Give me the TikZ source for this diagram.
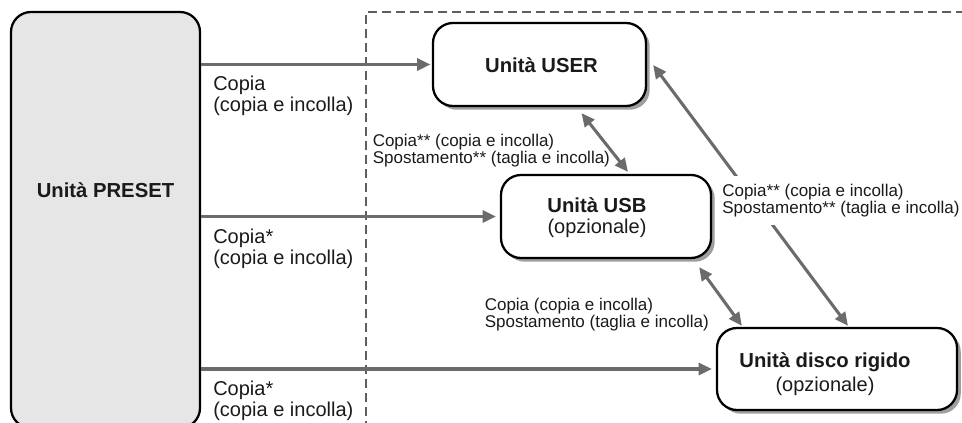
\documentclass[tikz,border=0pt]{standalone}
\usepackage{fontspec}
\setmainfont{Liberation Sans}
\usetikzlibrary{arrows.meta,calc,shadows}
\definecolor{arrgray}{HTML}{6B6B6B}
\definecolor{dashgray}{HTML}{5E5E5E}
\definecolor{presetfill}{HTML}{E6E6E6}
\definecolor{shadowgray}{HTML}{9E9E9E}
\definecolor{txt}{HTML}{1A1A1A}
\begin{document}
\begin{tikzpicture}[x=0.75pt,y=-0.75pt,
  basebox/.style={draw=black, line width=1.7pt, rounded corners=15pt, inner sep=0pt},
  pbox/.style={basebox, fill=presetfill},
  box/.style={basebox, fill=white,
    drop shadow={shadow xshift=2.8pt, shadow yshift=-2.8pt, fill=shadowgray, opacity=1}},
  title/.style={font=\bfseries\fontsize{15.2}{18}\selectfont, text=txt, inner sep=0pt},
  sub/.style={font=\fontsize{15}{18}\selectfont, text=txt, inner sep=0pt},
  biglbl/.style={font=\fontsize{15}{15.75}\selectfont, text=txt, align=left, inner sep=0pt, anchor=north west},
  smalllbl/.style={font=\fontsize{12.75}{12.75}\selectfont, text=txt, align=left, inner sep=0pt, anchor=north west},
  arr/.style={draw=arrgray, line width=2.3pt, -{Triangle[length=10pt,width=9pt]}},
  dbl/.style={draw=arrgray, line width=2.3pt, {Triangle[length=10pt,width=9pt]}-{Triangle[length=10pt,width=9pt]}},
  frame/.style={draw=dashgray, line width=1.8pt, dash pattern=on 6.5pt off 4pt}
]
\useasboundingbox (0,0) rectangle (962,423);

% dashed frame
\draw[frame] (366,430) -- (366,12) -- (975,12);

% boxes
\node[pbox, minimum width=141.75pt, minimum height=312pt] (preset) at (105.5,220) {};
\node[box, minimum width=159.75pt, minimum height=62.25pt] (user) at (539.5,64.5) {};
\node[box, minimum width=157.5pt, minimum height=62.25pt] (usb) at (606,216.5) {};
\node[box, minimum width=180pt, minimum height=61.5pt] (disk) at (837,369) {};

% box texts
\node[title, anchor=base] (presett) at (105.5,198) {Unità PRESET};
\node[title, anchor=base] (usert) at (541.5,73) {Unità USER};
\node[title, anchor=base] (usbt) at (597,213) {Unità USB};
\node[sub, anchor=base] (usbs) at (597,233.5) {(opzionale)};
\node[title, anchor=base] (diskt) at (825,368) {Unità disco rigido};
\node[sub, anchor=base] (disks) at (825,391) {(opzionale)};

% arrows from PRESET
\draw[arr, shorten >=1pt] (preset.east |- user.west) -- (user.west);
\draw[arr, shorten >=3pt] (preset.east |- usb.west) -- (usb.west);
\draw[arr, shorten >=3pt] (preset.east |- disk.west) -- (disk.west);

% arrows between drives
\draw[dbl] ($(user.south)+(42,6)$) -- ($(usb.north)+(22,-2)$);
\draw[dbl] ($(usb.south east)+(-13,8)$) -- ($(disk.north west)+(26,-1)$);
\draw[dbl] ($(user.east)+(6,0.5)$) -- ($(disk.north)+(11,-1)$);

% labels
\node[biglbl] (l1) at (213,75.5) {Copia\\(copia e incolla)};
\node[biglbl] (l2) at (213,228.5) {Copia*\\(copia e incolla)};
\node[biglbl] (l3) at (213,380.5) {Copia*\\(copia e incolla)};
\node[smalllbl] (l4) at (372.5,133.5) {Copia** (copia e incolla)\\Spostamento** (taglia e incolla)};
\node[smalllbl] (l5) at (484.5,297.5) {Copia (copia e incolla)\\Spostamento (taglia e incolla)};
\node[smalllbl, fill=white, inner ysep=6pt] (l6) at (722,176) {Copia** (copia e incolla)\\Spostamento** (taglia e incolla)};
\end{tikzpicture}
\end{document}
